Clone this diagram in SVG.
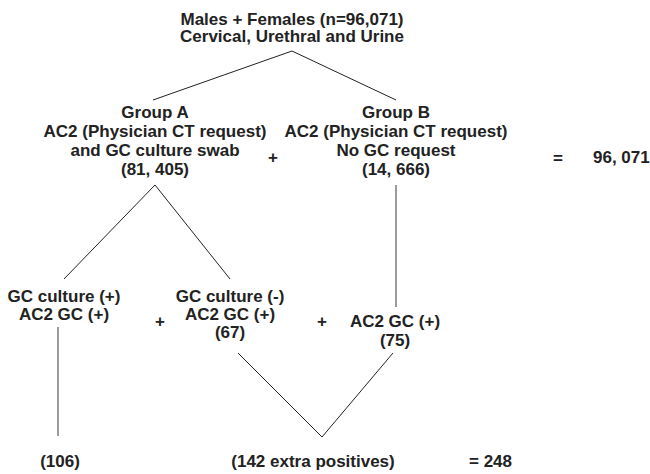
<svg xmlns="http://www.w3.org/2000/svg" width="650" height="474" viewBox="0 0 650 474">
<style>
text{font-family:"Liberation Sans",Arial,sans-serif;font-weight:bold;font-size:17px;fill:#222;text-anchor:middle}
.s{text-anchor:start}
.c line,.c polyline{stroke:#222;stroke-width:1;fill:none}
.c .g{stroke:#666;stroke-width:1.3}
</style>
<rect width="650" height="474" fill="#fff"/>
<g id="connectors" class="c">
<polyline points="153,100 292,51 396,100"/>
<polyline points="64,279 155,185 230,279"/>
<line class="g" x1="396" y1="185" x2="396" y2="307"/>
<line class="g" x1="58" y1="327" x2="58" y2="436"/>
<polyline points="238,353 322,437 393,353"/>
</g>
<g id="root">
<text x="292" y="25">Males + Females (n=96,071)</text>
<text x="292" y="42">Cervical, Urethral and Urine</text>
</g>
<g id="groupA">
<text x="155" y="118">Group A</text>
<text x="155" y="137">AC2 (Physician CT request)</text>
<text x="155" y="156">and GC culture swab</text>
<text x="155" y="175">(81, 405)</text>
</g>
<g id="plus1"><text x="273" y="163">+</text></g>
<g id="groupB">
<text x="396" y="118">Group B</text>
<text x="396" y="137">AC2 (Physician CT request)</text>
<text x="396" y="156">No GC request</text>
<text x="396" y="175">(14, 666)</text>
</g>
<g id="total1">
<text x="558" y="164">=</text>
<text class="s" x="593" y="163">96, 071</text>
</g>
<g id="cultPos">
<text x="64" y="302">GC culture (+)</text>
<text x="64" y="320">AC2 GC (+)</text>
</g>
<g id="plus2"><text x="160" y="327">+</text></g>
<g id="cultNeg">
<text x="230" y="302">GC culture (-)</text>
<text x="230" y="320">AC2 GC (+)</text>
<text x="230" y="338">(67)</text>
</g>
<g id="plus3"><text x="322" y="327">+</text></g>
<g id="groupBPos">
<text x="395" y="327">AC2 GC (+)</text>
<text x="395" y="346">(75)</text>
</g>
<g id="n106"><text x="60" y="467">(106)</text></g>
<g id="extra"><text x="313" y="467">(142 extra positives)</text></g>
<g id="total2"><text class="s" x="469" y="467">= 248</text></g>
</svg>
